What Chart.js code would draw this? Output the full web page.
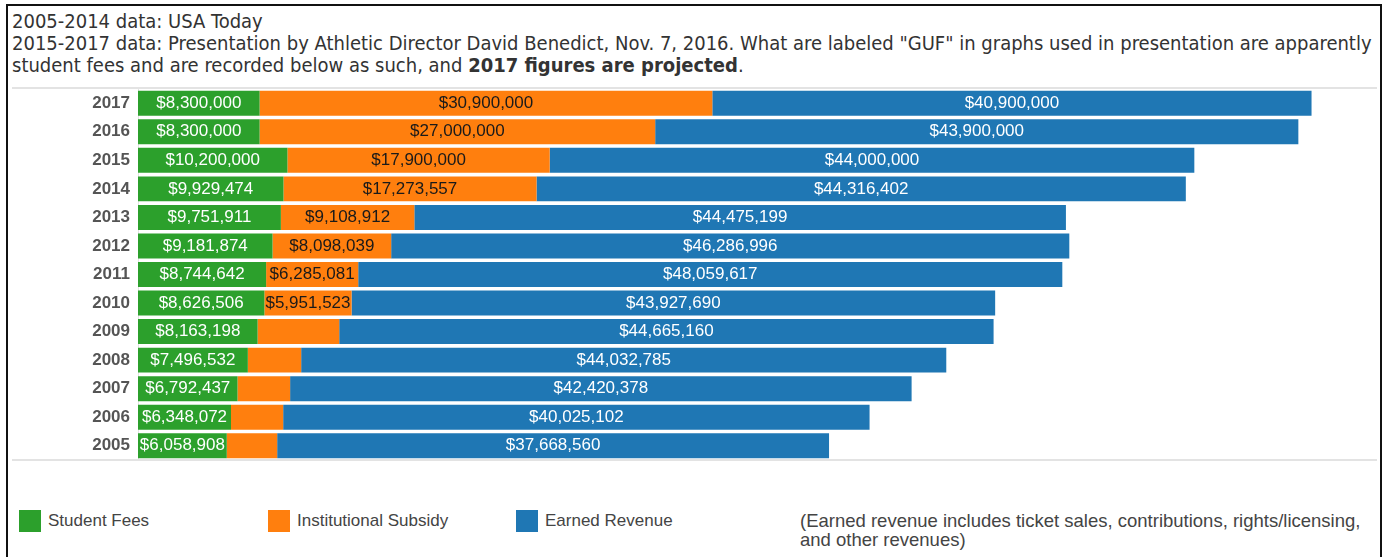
<!DOCTYPE html>
<html>
<head>
<meta charset="utf-8">
<script src="https://cdn.jsdelivr.net/npm/chart.js@4"></script>
<style>
  body { margin: 0; background: #fff; width: 1392px; height: 557px; overflow: hidden; position: relative; }
  #frame { position: absolute; left: 6px; top: 4px; width: 1376px; height: 600px; border: 2px solid #111; box-sizing: border-box; }
  #header { position: absolute; left: 12px; top: 10px; font-family: "DejaVu Sans Condensed", "DejaVu Sans", sans-serif; font-stretch: condensed; font-size: 20px; line-height: 22px; color: #333; white-space: nowrap; }
  .hline { position: absolute; left: 12px; width: 1365px; height: 2px; background: #e3e3e3; }
  #wrap { position: absolute; left: 0; top: 89px; width: 1392px; height: 371px; }
  #legend { position: absolute; top: 510px; left: 0; font-family: "Liberation Sans", Arial, sans-serif; font-size: 17px; color: #444; }
  .item { position: absolute; top: 0; white-space: nowrap; }
  .sw { position: absolute; left: 0; top: 0; width: 22px; height: 22px; }
  .lab { position: absolute; left: 29px; top: 1px; }
  #note { position: absolute; left: 800px; top: 511px; font-family: "Liberation Sans", Arial, sans-serif; font-size: 18.5px; line-height: 19px; color: #444; white-space: nowrap; }
</style>
</head>
<body>
<div id="frame"></div>
<div id="header">
  2005-2014 data: USA Today<br>
  2015-2017 data: Presentation by Athletic Director David Benedict, Nov. 7, 2016. What are labeled "GUF" in graphs used in presentation are apparently<br>
  student fees and are recorded below as such, and <b>2017 figures are projected</b>.
</div>
<div class="hline" style="top:87px"></div>
<div class="hline" style="top:459px"></div>
<div id="wrap"><canvas id="grafico"></canvas></div>
<div id="legend"></div>
<div id="note">(Earned revenue includes ticket sales, contributions, rights/licensing,<br>and other revenues)</div>

<script>
const years = ["2017", "2016", "2015", "2014", "2013", "2012", "2011", "2010", "2009", "2008", "2007", "2006", "2005"];
const studentFees = [8300000, 8300000, 10200000, 9929474, 9751911, 9181874, 8744642, 8626506, 8163198, 7496532, 6792437, 6348072, 6058908];
// 2005-2009 subsidy has no label in the source
const subsidy = [30900000, 27000000, 17900000, 17273557, 9108912, 8098039, 6285081, 5951523, 5570000, 3640000, 3590000, 3560000, 3440000];
const earned = [40900000, 43900000, 44000000, 44316402, 44475199, 46286996, 48059617, 43927690, 44665160, 44032785, 42420378, 40025102, 37668560];

const seriesNames = ["Student Fees", "Institutional Subsidy", "Earned Revenue"];
const seriesColors = ["#2ca02c", "#ff7f0e", "#1f77b4"];
const labelColors = ["#fff", "#1a1a1a", "#fff"];

// legend
const legendDiv = document.getElementById("legend");
const legendX = [19, 268, 516];
seriesNames.forEach((name, i) => {
  const item = document.createElement("div");
  item.className = "item";
  item.style.left = legendX[i] + "px";
  item.innerHTML = `<div class="sw" style="background:${seriesColors[i]}"></div><div class="lab">${name}</div>`;
  legendDiv.appendChild(item);
});

// valores dentro de cada segmento, solo si caben
const segmentLabels = {
  id: "segmentLabels",
  afterDatasetsDraw(chart) {
    const c = chart.ctx;
    c.save();
    c.font = "17px 'Liberation Sans', Arial, sans-serif";
    c.textAlign = "center";
    c.textBaseline = "middle";
    chart.data.datasets.forEach((ds, di) => {
      const meta = chart.getDatasetMeta(di);
      meta.data.forEach((bar, i) => {
        const txt = "$" + ds.data[i].toLocaleString("en-US");
        const w = Math.abs(bar.x - bar.base);
        if (c.measureText(txt).width > w + 1) return;
        c.fillStyle = labelColors[di];
        c.fillText(txt, (bar.x + bar.base) / 2, bar.y);
      });
    });
    c.restore();
  }
};

const ctx = document.getElementById("grafico").getContext("2d");
const chart = new Chart(ctx, {
  type: "bar",
  data: {
    labels: years,
    datasets: [studentFees, subsidy, earned].map((d, i) => ({
      label: seriesNames[i],
      data: d,
      backgroundColor: seriesColors[i],
      borderWidth: 0,
      barPercentage: 1,
      categoryPercentage: 0.875,
    })),
  },
  options: {
    indexAxis: "y",
    responsive: true,
    maintainAspectRatio: false,
    animation: false,
    layout: { padding: { left: 0, right: 16, top: 0, bottom: 0 } },
    plugins: { legend: { display: false }, tooltip: { enabled: false } },
    scales: {
      x: { stacked: true, min: 0, max: 84500000, display: false },
      y: {
        stacked: true,
        grid: { display: false, drawTicks: false },
        border: { display: true, color: "#e3e3e3", width: 1 },
        ticks: {
          padding: 8,
          color: "#555",
          font: { family: "'Liberation Sans', Arial, sans-serif", size: 17, weight: "bold" },
        },
        afterFit(scale) {
          scale.width = 138;
          scale.paddingTop = 0;
          scale.paddingBottom = 0;
        },
      },
    },
  },
  plugins: [segmentLabels],
});
</script>
</body>
</html>
